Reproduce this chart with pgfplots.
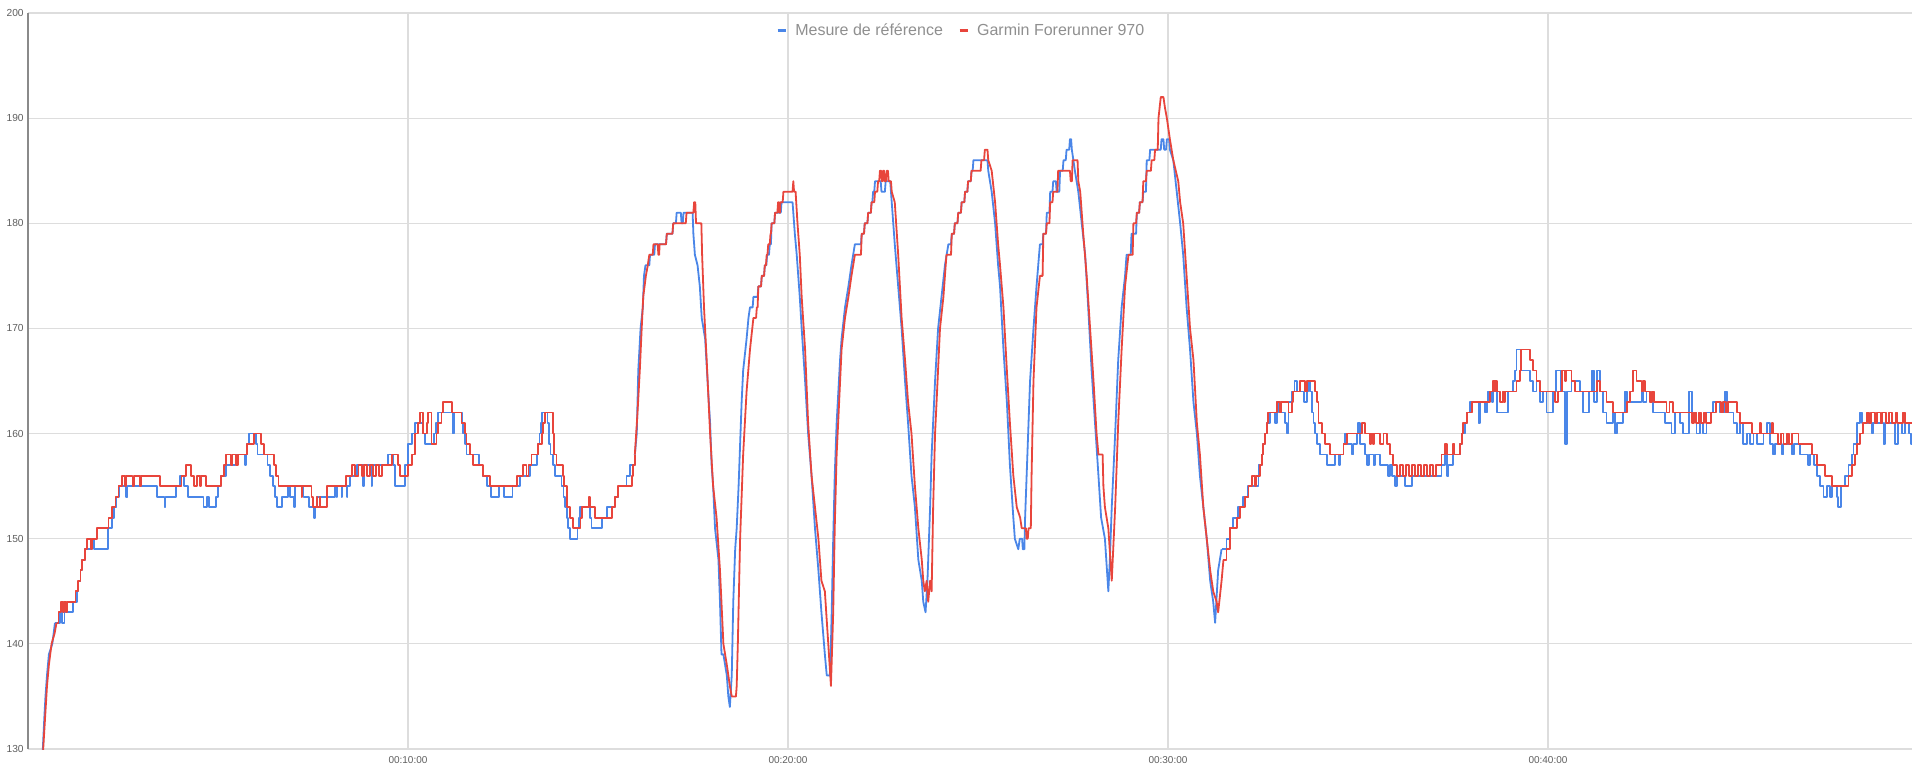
\documentclass[border=0pt]{standalone}
\usepackage{fontspec}
\setmainfont{Liberation Sans}
\usepackage{pgfplots}
\pgfplotsset{compat=1.18}
\definecolor{serieblue}{HTML}{4A86E8}
\definecolor{seriered}{HTML}{E8453C}
\definecolor{gridc}{HTML}{DDDDDD}
\definecolor{labc}{HTML}{5F5F5F}
\definecolor{legc}{HTML}{8F8F8F}
\definecolor{axc}{HTML}{8A8A8A}
\begin{document}
\begin{tikzpicture}
\begin{axis}[
  scale only axis, width=942pt, height=368pt,
  xmin=0, xmax=49.58, ymin=130, ymax=200,
  clip mode=individual,
  axis line style={draw=none},
  xtick={10,20,30,40}, xticklabels={00:10:00,00:20:00,00:30:00,00:40:00},
  ytick={130,140,150,160,170,180,190,200}, yticklabels={130,140,150,160,170,180,190,200},
  major tick length=0pt,
  grid=major, major grid style={draw=gridc, line width=0.6pt},
  xticklabel style={font=\fontsize{5}{6}\selectfont, text=labc, inner sep=0pt, anchor=north, yshift=-3.8pt},
  yticklabel style={font=\fontsize{5.1}{6}\selectfont, text=labc, inner sep=0pt, anchor=east, xshift=-2pt},
  legend columns=2,
  legend style={at={(0.4948,0.9757)}, anchor=center, draw=none, fill=none,
    font=\fontsize{8}{9}\selectfont, text=legc, inner sep=0pt, nodes={inner sep=0pt},
    /tikz/every odd column/.append style={column sep=4pt},
    /tikz/every even column/.append style={column sep=7.5pt}},
  legend image code/.code={\draw[line width=1.6pt] (0pt,0pt) -- (4pt,0pt);},
  bl/.style={no marks, serieblue, line width=0.9pt, line join=round},
  rd/.style={no marks, seriered, line width=0.9pt, line join=round},
]
% ---- Mesure de reference (blue)
\addplot[bl, sharp plot] coordinates {
(0.37,127)(0.39,130)(0.43,133)(0.46,135)(0.50,137)(0.55,139)(0.64,140)(0.71,142)
};
\addlegendentry{Mesure de référence}
\addplot[bl, const plot, forget plot] coordinates {
(0.71,142)(0.85,143)(0.90,142)(0.96,143)(1.19,144)(1.28,145)(1.33,146)(1.38,147)(1.43,148)(1.49,149)(1.68,150)(1.73,149)(2.10,151)(2.20,152)(2.27,153)(2.33,154)(2.40,155)(2.58,154)(2.62,155)(3.39,154)(3.59,153)(3.62,154)(3.90,155)(4.00,156)(4.10,155)(4.22,154)(4.62,153)(4.72,154)(4.76,153)(4.95,154)(5.00,155)(5.07,156)(5.20,157)(5.46,158)(5.70,157)(5.74,158)(5.76,159)(5.82,160)(5.99,159)(6.04,158)(6.30,157)(6.37,156)(6.45,155)(6.50,154)(6.55,153)(6.68,154)(6.85,155)(6.89,154)(7.00,153)(7.02,155)(7.25,154)(7.40,153)(7.53,152)(7.56,153)(7.60,154)(8.08,155)(8.12,154)(8.14,155)(8.25,154)(8.27,155)(8.39,154)(8.41,155)(8.47,156)(8.65,157)(8.82,155)(8.84,157)(9.04,155)(9.06,157)(9.48,158)(9.61,157)(9.66,155)(9.92,157)(10.01,159)(10.10,160)(10.18,161)(10.38,160)(10.45,159)(10.68,160)(10.74,161)(10.80,162)(11.17,160)(11.22,162)(11.42,161)(11.45,160)(11.50,159)(11.54,158)(11.87,157)(11.96,156)(12.07,155)(12.18,154)(12.40,155)(12.53,154)(12.75,155)(12.95,156)(13.21,157)(13.39,158)(13.43,159)(13.46,160)(13.49,161)(13.52,162)(13.67,161)(13.72,159)(13.75,158)(13.82,157)(13.87,156)(14.04,155)(14.09,154)(14.13,153)(14.18,152)(14.22,151)(14.26,150)(14.46,151)(14.50,152)(14.53,153)(14.79,152)(14.83,151)(15.10,152)(15.23,153)(15.45,154)(15.54,155)(15.75,156)(15.84,157)(15.97,158)
};
\addplot[bl, sharp plot, forget plot] coordinates {
(15.97,158)(16.02,160)(16.04,163)(16.06,166)(16.12,170)(16.18,172)(16.21,175)(16.25,176)(16.35,176)(16.37,177)(16.48,177)(16.50,178)(16.79,178)(16.81,179)(16.96,179)(16.98,180)(17.05,180)(17.07,181)(17.18,181)(17.20,180)(17.23,180)(17.25,181)(17.49,181)(17.51,179)(17.55,177)(17.62,176)(17.68,174)(17.73,171)(17.82,169)(17.90,164)(17.95,161)(17.99,157)(18.03,155)(18.08,151)(18.17,148)(18.21,144)(18.25,139)(18.30,139)(18.39,137)(18.43,135)(18.47,134)(18.52,137)(18.56,144)(18.61,149)(18.65,151)(18.70,155)(18.74,159)(18.78,163)(18.82,166)(18.91,169)(18.96,171)(19.00,172)(19.07,172)(19.09,173)(19.20,173)(19.22,174)(19.29,174)(19.31,175)(19.37,175)(19.39,176)(19.43,176)(19.45,177)(19.50,177)(19.52,178)(19.55,178)(19.57,180)(19.64,180)(19.66,181)(19.81,181)(19.83,182)(20.12,182)(20.14,181)(20.18,179)(20.23,177)(20.31,173)(20.36,170)(20.45,165)(20.53,160)(20.62,156)(20.71,151)(20.80,147)(20.88,143)(20.97,139)(21.02,137)(21.10,137)(21.13,140)(21.15,143)(21.19,150)(21.23,156)(21.28,161)(21.37,167)(21.41,169)(21.50,172)(21.59,174)(21.67,176)(21.76,178)(21.92,178)(21.94,179)(22.00,179)(22.02,180)(22.09,180)(22.11,181)(22.18,181)(22.20,182)(22.22,182)(22.24,183)(22.27,183)(22.29,184)(22.44,184)(22.46,183)(22.55,183)(22.57,184)(22.69,184)(22.71,183)(22.77,180)(22.81,178)(22.90,174)(22.99,170)(23.08,165)(23.16,161)(23.25,156)(23.34,153)(23.43,148)(23.52,146)(23.56,144)(23.62,143)(23.67,146)(23.74,153)(23.78,158)(23.87,165)(23.95,170)(24.04,173)(24.13,176)(24.22,178)(24.29,178)(24.31,179)(24.37,179)(24.39,180)(24.46,180)(24.48,181)(24.55,181)(24.57,182)(24.64,182)(24.66,183)(24.72,183)(24.74,184)(24.81,184)(24.83,185)(24.86,185)(24.88,186)(25.25,186)(25.27,185)(25.36,183)(25.45,180)(25.53,176)(25.58,174)(25.67,168)(25.76,163)(25.84,157)(25.93,152)(25.97,150)(26.06,149)(26.10,150)(26.16,150)(26.18,149)(26.22,149)(26.24,152)(26.28,156)(26.37,165)(26.46,170)(26.54,174)(26.63,178)(26.70,178)(26.72,179)(26.79,179)(26.81,181)(26.88,181)(26.90,183)(26.96,183)(26.98,184)(27.05,184)(27.07,183)(27.14,183)(27.16,185)(27.23,185)(27.25,186)(27.31,186)(27.33,187)(27.40,187)(27.42,188)(27.45,188)(27.47,187)(27.55,185)(27.64,183)(27.73,180)(27.82,177)(27.90,172)(27.99,166)(28.08,161)(28.17,156)(28.24,152)(28.34,150)(28.43,145)(28.47,148)(28.52,153)(28.61,160)(28.69,167)(28.78,172)(28.87,175)(28.91,177)(29.02,177)(29.04,179)(29.16,179)(29.18,181)(29.24,181)(29.26,182)(29.33,182)(29.35,183)(29.42,183)(29.44,186)(29.51,186)(29.53,187)(29.81,187)(29.83,188)(29.88,188)(29.90,187)(29.95,187)(29.97,188)(30.03,188)(30.05,187)(30.14,186)(30.23,183)(30.32,180)(30.40,177)(30.49,172)(30.58,168)(30.67,163)(30.76,160)(30.84,156)(30.93,153)(31.02,150)(31.11,146)(31.19,144)(31.24,142)(31.32,147)(31.41,149)
};
\addplot[bl, const plot, forget plot] coordinates {
(31.41,149)(31.54,150)(31.63,151)(31.72,152)(31.85,153)(31.98,154)(32.11,155)(32.38,157)(32.47,158)(32.51,159)(32.56,160)(32.60,161)(32.69,162)(32.82,161)(32.86,163)(32.91,162)(33.08,161)(33.13,160)(33.17,163)(33.26,164)(33.33,165)(33.39,164)(33.57,163)(33.65,164)(33.70,165)(33.74,164)(33.78,162)(33.83,161)(33.87,160)(33.92,159)(34.00,158)(34.18,157)(34.40,158)(34.49,157)(34.53,158)(34.62,159)(34.66,160)(34.70,159)(34.84,158)(34.88,159)(34.97,160)(35.01,161)(35.06,159)(35.19,158)(35.23,157)(35.28,158)(35.41,157)(35.45,158)(35.58,157)(35.80,156)(35.85,157)(35.89,156)(35.98,155)(36.02,156)(36.24,155)(36.42,156)(37.20,157)(37.29,158)(37.34,156)(37.38,157)(37.51,158)(37.69,159)(37.73,160)(37.82,161)(37.86,162)(37.95,163)(38.17,161)(38.21,163)(38.35,162)(38.39,163)(38.43,164)(38.52,163)(38.56,164)(38.65,162)(38.95,164)(39.08,165)(39.13,166)(39.17,168)(39.30,166)(39.52,165)(39.61,164)(39.70,165)(39.79,163)(39.87,164)(39.96,162)(40.14,164)(40.22,166)(40.34,164)(40.45,159)(40.49,164)(40.62,165)(40.84,164)(40.93,162)(41.08,164)(41.15,166)(41.22,163)(41.29,166)(41.36,164)(41.45,162)(41.54,161)(41.71,162)(41.76,160)(41.82,161)(41.98,162)(42.02,164)(42.07,163)(42.46,164)(42.50,163)(42.59,164)(42.68,163)(42.77,162)(43.07,161)(43.25,160)(43.34,162)(43.47,161)(43.56,160)(43.71,164)(43.78,162)(43.91,160)(44.00,161)(44.08,160)(44.17,162)(44.35,163)(44.52,162)(44.65,164)(44.71,162)(44.88,161)(44.97,160)(45.06,161)(45.14,159)(45.23,160)(45.32,159)(45.41,160)(45.49,159)(45.67,160)(45.76,161)(45.85,159)(45.92,158)(45.98,159)(46.15,158)(46.20,159)(46.42,158)(46.48,159)(46.63,158)(46.85,157)(46.90,158)(46.99,157)(47.07,156)(47.16,155)(47.25,154)(47.34,155)(47.42,154)(47.47,155)(47.60,154)(47.64,153)(47.71,155)(47.82,156)(47.91,157)(47.99,158)(48.04,159)(48.13,161)(48.21,162)(48.26,161)(48.52,160)(48.56,161)(48.83,159)(48.87,161)(49.13,159)(49.22,161)(49.31,160)(49.40,161)(49.49,160)(49.55,159)(49.57,159)
};
% ---- Garmin Forerunner 970 (red)
\addplot[rd, sharp plot] coordinates {
(0.38,127)(0.40,130)(0.45,133)(0.50,136)(0.55,138)(0.62,140)(0.70,141)(0.75,142)
};
\addlegendentry{Garmin Forerunner 970}
\addplot[rd, const plot, forget plot] coordinates {
(0.75,142)(0.80,143)(0.86,144)(0.92,143)(0.95,144)(1.00,143)(1.03,144)(1.25,145)(1.32,146)(1.38,147)(1.43,148)(1.50,149)(1.55,150)(1.65,149)(1.68,150)(1.82,151)(2.12,152)(2.20,153)(2.30,154)(2.38,155)(2.48,156)(2.55,155)(2.58,156)(2.75,155)(2.78,156)(2.95,155)(2.98,156)(3.47,155)(4.04,156)(4.15,157)(4.28,156)(4.36,155)(4.45,156)(4.52,155)(4.55,156)(4.68,155)(5.07,156)(5.16,157)(5.20,158)(5.35,157)(5.38,158)(5.48,157)(5.52,158)(5.77,159)(5.94,160)(6.14,159)(6.21,158)(6.47,157)(6.52,156)(6.59,155)(7.20,154)(7.22,155)(7.46,154)(7.51,153)(7.60,154)(7.62,153)(7.68,154)(7.70,153)(7.86,155)(8.37,156)(8.52,157)(8.60,156)(8.70,157)(8.78,156)(8.85,157)(8.92,156)(9.00,157)(9.08,156)(9.16,157)(9.24,156)(9.32,157)(9.57,158)(9.74,157)(9.79,156)(9.99,157)(10.10,158)(10.18,160)(10.27,161)(10.31,162)(10.40,160)(10.49,161)(10.53,162)(10.62,159)(10.75,160)(10.80,161)(10.88,162)(10.93,163)(11.15,162)(11.41,161)(11.50,160)(11.54,159)(11.63,158)(11.72,157)(11.98,156)(12.16,155)(12.86,156)(13.03,157)(13.12,156)(13.17,157)(13.25,158)(13.43,159)(13.52,160)(13.56,161)(13.60,162)(13.81,160)(13.85,158)(13.91,157)(14.07,156)(14.11,155)(14.18,153)(14.26,152)(14.35,151)(14.54,152)(14.57,153)(14.77,154)(14.80,153)(14.92,152)(15.36,153)(15.45,154)(15.53,155)(15.89,156)(15.93,157)(15.97,158)
};
\addplot[rd, sharp plot, forget plot] coordinates {
(15.97,158)(16.04,162)(16.10,166)(16.15,170)(16.19,173)(16.26,175)(16.31,176)(16.35,177)(16.44,177)(16.46,178)(16.57,178)(16.59,177)(16.61,177)(16.62,178)(16.79,178)(16.81,179)(16.96,179)(16.98,180)(17.31,180)(17.33,181)(17.51,181)(17.53,182)(17.56,182)(17.58,180)(17.72,180)(17.74,177)(17.76,175)(17.79,172)(17.86,167)(17.95,160)(18.03,155)(18.12,152)(18.21,147)(18.30,140)(18.39,138)(18.47,136)(18.52,135)(18.63,135)(18.65,136)(18.68,140)(18.71,145)(18.74,150)(18.78,154)(18.82,158)(18.91,164)(19.00,168)(19.09,171)(19.16,171)(19.18,172)(19.20,172)(19.22,174)(19.29,174)(19.31,175)(19.37,175)(19.39,176)(19.42,176)(19.44,177)(19.46,177)(19.48,178)(19.52,178)(19.54,179)(19.55,179)(19.57,180)(19.64,180)(19.66,181)(19.72,181)(19.74,182)(19.76,182)(19.78,181)(19.79,181)(19.80,182)(19.86,182)(19.88,183)(20.12,183)(20.14,184)(20.16,183)(20.20,183)(20.25,180)(20.31,177)(20.36,173)(20.45,168)(20.53,161)(20.62,156)(20.71,153)(20.80,150)(20.88,146)(20.97,145)(21.06,140)(21.13,136)(21.19,143)(21.23,151)(21.28,158)(21.32,161)(21.41,168)(21.50,171)(21.59,173)(21.67,175)(21.76,177)(21.92,177)(21.94,179)(22.00,179)(22.02,180)(22.09,180)(22.11,181)(22.18,181)(22.20,182)(22.27,182)(22.29,183)(22.35,183)(22.37,184)(22.40,184)(22.42,185)(22.45,185)(22.47,184)(22.49,184)(22.50,185)(22.53,185)(22.55,184)(22.58,184)(22.60,185)(22.63,185)(22.65,184)(22.71,184)(22.73,183)(22.81,182)(22.90,177)(22.99,171)(23.08,167)(23.16,163)(23.25,160)(23.34,155)(23.43,151)(23.52,148)(23.56,146)(23.60,145)(23.65,146)(23.69,144)(23.74,146)(23.78,145)(23.82,153)(23.87,160)(23.91,163)(24.00,170)(24.09,173)(24.17,177)(24.29,177)(24.31,179)(24.37,179)(24.39,180)(24.46,180)(24.48,181)(24.55,181)(24.57,182)(24.64,182)(24.66,183)(24.72,183)(24.74,184)(24.81,184)(24.83,185)(25.07,185)(25.09,186)(25.16,186)(25.18,187)(25.25,187)(25.27,186)(25.36,185)(25.45,182)(25.53,178)(25.58,176)(25.67,172)(25.76,166)(25.84,161)(25.93,156)(26.02,153)(26.11,152)(26.15,151)(26.26,151)(26.28,150)(26.31,150)(26.33,151)(26.39,151)(26.41,156)(26.46,165)(26.54,172)(26.63,175)(26.70,175)(26.72,179)(26.79,179)(26.81,180)(26.88,180)(26.90,182)(26.96,182)(26.98,183)(27.09,183)(27.11,185)(27.42,185)(27.44,184)(27.47,184)(27.49,186)(27.62,186)(27.64,184)(27.69,183)(27.77,179)(27.86,175)(27.95,170)(28.04,165)(28.12,160)(28.17,158)(28.28,158)(28.30,155)(28.34,153)(28.43,151)(28.52,146)(28.61,153)(28.69,161)(28.78,168)(28.87,174)(28.96,177)(29.07,177)(29.09,180)(29.16,180)(29.18,181)(29.24,181)(29.26,182)(29.33,182)(29.35,184)(29.42,184)(29.44,185)(29.55,185)(29.57,186)(29.64,186)(29.66,187)(29.73,187)(29.75,190)(29.81,192)(29.88,192)(29.92,191)(29.97,190)(30.05,188)(30.14,186)(30.27,184)(30.32,182)(30.40,180)(30.49,175)(30.58,170)(30.67,167)(30.76,161)(30.84,158)(30.93,153)(31.02,150)(31.11,147)(31.19,145)(31.28,144)(31.32,143)(31.41,146)(31.46,148)
};
\addplot[rd, const plot, forget plot] coordinates {
(31.46,148)(31.54,149)(31.63,151)(31.81,152)(31.89,153)(32.02,154)(32.12,155)(32.21,156)(32.29,155)(32.31,156)(32.42,157)(32.47,158)(32.51,159)(32.56,160)(32.60,161)(32.64,162)(32.86,163)(32.95,162)(32.98,163)(33.17,162)(33.26,163)(33.30,164)(33.48,165)(33.61,164)(33.65,165)(33.87,164)(33.92,163)(33.96,161)(34.05,160)(34.13,159)(34.27,158)(34.62,159)(34.71,160)(35.10,161)(35.19,160)(35.32,159)(35.35,160)(35.40,159)(35.43,160)(35.58,159)(35.67,160)(35.76,159)(35.85,158)(35.93,157)(36.02,156)(36.10,157)(36.18,156)(36.26,157)(36.34,156)(36.42,157)(36.50,156)(36.58,157)(36.66,156)(36.74,157)(36.82,156)(36.90,157)(36.98,156)(37.06,157)(37.20,158)(37.29,159)(37.34,158)(37.51,159)(37.54,158)(37.69,159)(37.73,160)(37.77,161)(37.86,162)(37.99,163)(38.48,164)(38.56,165)(38.60,164)(38.62,165)(38.65,164)(38.73,163)(38.82,164)(38.84,163)(38.86,164)(39.17,165)(39.26,166)(39.30,168)(39.52,167)(39.61,166)(39.70,165)(39.79,164)(40.18,163)(40.27,164)(40.36,166)(40.44,165)(40.47,166)(40.62,165)(40.71,164)(41.28,165)(41.36,164)(41.54,163)(41.71,162)(42.07,163)(42.15,164)(42.24,166)(42.33,165)(42.46,164)(42.50,165)(42.56,164)(42.68,163)(42.74,164)(42.80,163)(43.12,162)(43.20,163)(43.28,162)(43.78,161)(43.84,162)(43.90,161)(43.97,162)(44.03,161)(44.10,162)(44.15,161)(44.30,162)(44.43,163)(44.55,162)(44.60,163)(44.68,162)(44.74,163)(44.97,162)(45.06,161)(45.36,160)(45.58,161)(45.61,160)(45.89,161)(45.93,160)(46.06,159)(46.14,160)(46.20,159)(46.28,160)(46.35,159)(46.42,160)(46.59,159)(46.94,158)(47.07,157)(47.29,156)(47.47,155)(47.91,156)(47.99,157)(48.08,158)(48.13,159)(48.21,160)(48.30,161)(48.39,162)(48.45,161)(48.50,162)(48.60,161)(48.65,162)(48.75,161)(48.80,162)(48.90,161)(48.98,162)(49.05,161)(49.15,162)(49.20,161)(49.35,162)(49.40,161)(49.57,161)
};
\draw[axc, line width=0.9pt] (axis cs:0,130) -- (axis cs:0,200);
\end{axis}
\pgfresetboundingbox
\path[use as bounding box] (-14pt,-11pt) rectangle (946pt,374.5pt);
\end{tikzpicture}
\end{document}
